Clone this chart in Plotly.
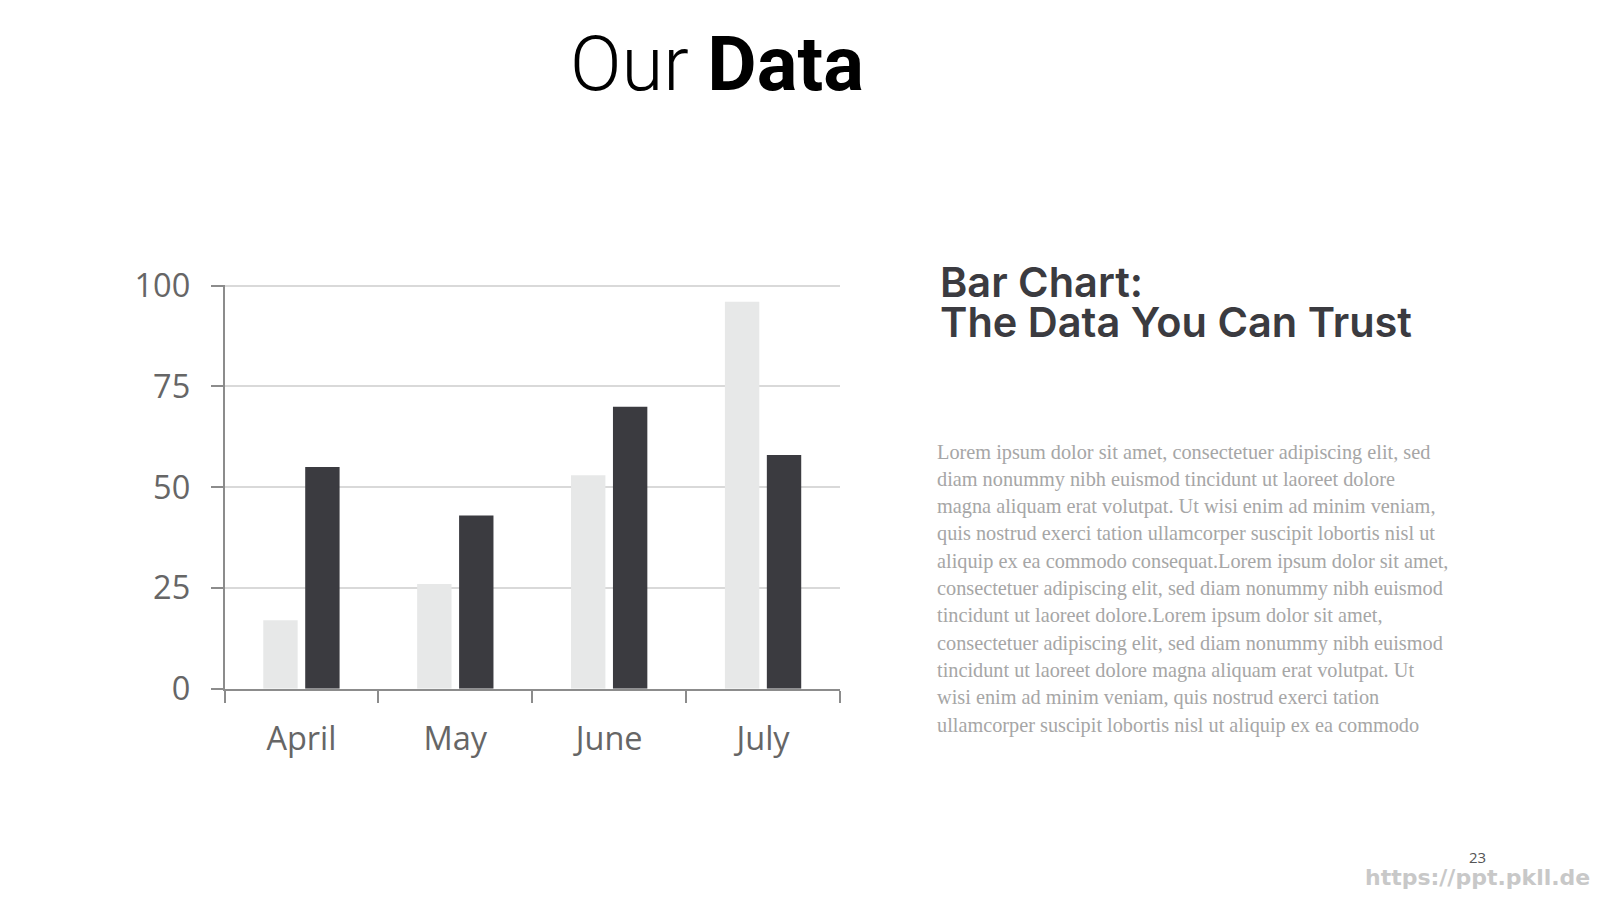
import plotly.graph_objects as go

months = ["April", "May", "June", "July"]
series_light = [17, 26, 53, 96]
series_dark = [55, 43, 70, 58]
y_ticks = [0, 25, 50, 75, 100]

body_lines = [
    "Lorem ipsum dolor sit amet, consectetuer adipiscing elit, sed",
    "diam nonummy nibh euismod tincidunt ut laoreet dolore",
    "magna aliquam erat volutpat. Ut wisi enim ad minim veniam,",
    "quis nostrud exerci tation ullamcorper suscipit lobortis nisl ut",
    "aliquip ex ea commodo consequat.Lorem ipsum dolor sit amet,",
    "consectetuer adipiscing elit, sed diam nonummy nibh euismod",
    "tincidunt ut laoreet dolore.Lorem ipsum dolor sit amet,",
    "consectetuer adipiscing elit, sed diam nonummy nibh euismod",
    "tincidunt ut laoreet dolore magna aliquam erat volutpat. Ut",
    "wisi enim ad minim veniam, quis nostrud exerci tation",
    "ullamcorper suscipit lobortis nisl ut aliquip ex ea commodo",
]

# page offset (default body margin of the html page)
OFF = 8
W, H = 1600 - OFF, 900 - OFF


def px(x):
    return (x - OFF) / W


def py(y):
    return 1 - (y - OFF) / H


fig = go.Figure()
fig.add_trace(go.Bar(x=months, y=series_light, marker=dict(color="#E7E8E8", line=dict(width=0)), name="Series 1"))
fig.add_trace(go.Bar(x=months, y=series_dark, marker=dict(color="#3B3B40", line=dict(width=0)), name="Series 2"))

axis_font = dict(family="Open Sans", size=32.5, color="#666666")

fig.update_layout(
    width=W, height=H,
    margin=dict(l=0, r=0, t=0, b=0, pad=0),
    paper_bgcolor="white", plot_bgcolor="white",
    showlegend=False,
    barmode="group", bargap=0.455, bargroupgap=0.18,
    xaxis=dict(
        domain=[px(224.5), px(840)],
        automargin=False,
        showline=True, linecolor="#8C8C8C", linewidth=1.5,
        ticks="outside", tickson="boundaries", ticklen=12, tickcolor="#8C8C8C", tickwidth=1.5,
        tickfont=axis_font, ticklabelstandoff=20,
        showgrid=False,
    ),
    yaxis=dict(
        domain=[py(688.8), py(284.5)],
        automargin=False,
        range=[0, 100.3], tickvals=y_ticks,
        showline=True, linecolor="#8C8C8C", linewidth=1.5,
        ticks="outside", ticklen=12, tickcolor="#8C8C8C", tickwidth=1.5,
        tickfont=axis_font, ticklabelstandoff=14,
        showgrid=True, gridcolor="#D9D9D9", gridwidth=1.5,
        zeroline=False,
    ),
)

ann = []
# Title
ann.append(dict(
    x=px(717), y=py(64), xref="paper", yref="paper", xanchor="center", yanchor="middle",
    text="Our <b>Data</b>", showarrow=False,
    font=dict(family="Roboto", size=76, color="#000000", weight=300),
))
# Subheading
sub_font = dict(family="Inter", size=41.5, color="#3B3B40", weight=600)
ann.append(dict(
    x=px(938), y=py(282), xref="paper", yref="paper", xanchor="left", yanchor="middle",
    text="Bar Chart:", showarrow=False, font=sub_font,
))
ann.append(dict(
    x=px(938), y=py(322), xref="paper", yref="paper", xanchor="left", yanchor="middle",
    text="The Data You Can Trust", showarrow=False, font=sub_font,
))
# Body text
for i, line in enumerate(body_lines):
    ann.append(dict(
        x=px(935), y=py(452 + i * 27.3), xref="paper", yref="paper", xanchor="left", yanchor="middle",
        text=line, showarrow=False,
        font=dict(family="Liberation Serif", size=20.3, color="#A6A6A6"),
    ))
# Page number
ann.append(dict(
    x=px(1477), y=py(857), xref="paper", yref="paper", xanchor="center", yanchor="middle",
    text="23", showarrow=False,
    font=dict(family="Open Sans", size=15, color="#555555"),
))
# Watermark
ann.append(dict(
    x=px(1592), y=py(877), xref="paper", yref="paper", xanchor="right", yanchor="middle",
    text="https://ppt.pkll.de", showarrow=False,
    font=dict(family="DejaVu Sans", size=22, color="#C8C8C8", weight=700),
))
fig.update_layout(annotations=ann)

fig.write_html("out.html")
